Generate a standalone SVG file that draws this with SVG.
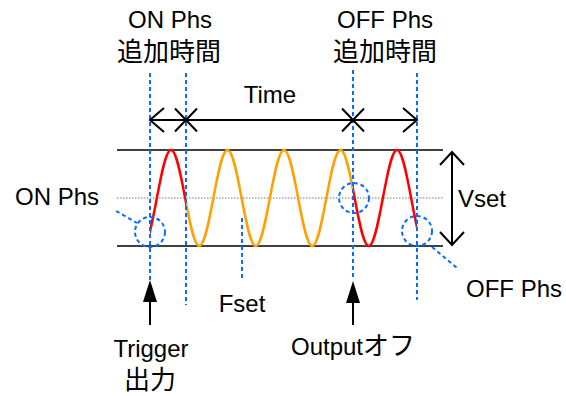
<svg xmlns="http://www.w3.org/2000/svg" width="566" height="396" viewBox="0 0 566 396">
<defs>
<style>
text{font-family:"Liberation Sans","Noto Sans CJK JP",sans-serif;font-size:24px;fill:#000}
.cjk{font-size:26px}
.mid{text-anchor:middle}
.blue{stroke:#0A6CFF;stroke-width:2;stroke-dasharray:4 3;fill:none}
.blk{stroke:#000;stroke-width:2;fill:none}
.hl{stroke:#000;stroke-width:1.3}
.wave{fill:none;stroke-width:2.5}
</style>
<clipPath id="cr"><rect x="150" y="140" width="36" height="120"/><rect x="353" y="140" width="64" height="120"/></clipPath>
<clipPath id="co"><rect x="186" y="140" width="167" height="120"/></clipPath>
<path id="wv" d="M142.75,246 C153.03,246 160.72,150 171,150 S188.97,246 199.25,246 S217.22,150 227.5,150 S245.47,246 255.75,246 S273.72,150 284,150 S301.97,246 312.25,246 S330.22,150 340.5,150 S358.47,246 368.75,246 S386.72,150 397,150 S414.97,246 425.25,246"/>
</defs>
<g id="axes">
<line class="hl" x1="117" y1="150" x2="443" y2="150"/>
<line class="hl" x1="117" y1="246" x2="443" y2="246"/>
<line x1="117" y1="198" x2="443" y2="198" stroke="#777" stroke-width="1" stroke-dasharray="1.5 1.5"/>
</g>
<g id="wave">
<use href="#wv" class="wave" stroke="#FF0000" clip-path="url(#cr)"/>
<use href="#wv" class="wave" stroke="#FFA000" clip-path="url(#co)"/>
</g>
<g id="connectors">
<line class="blue" x1="150" y1="73" x2="150" y2="280"/>
<line class="blue" x1="186" y1="73" x2="186" y2="305"/>
<line class="blue" x1="353" y1="70" x2="353" y2="280"/>
<line class="blue" x1="417" y1="73" x2="417" y2="300"/>
<line class="blue" x1="242" y1="218" x2="242" y2="280"/>
<line class="blue" x1="116" y1="211" x2="137" y2="223"/>
<line class="blue" x1="432" y1="247" x2="457" y2="268"/>
<circle class="blue" cx="150" cy="232" r="15"/>
<circle class="blue" cx="354" cy="198" r="15"/>
<circle class="blue" cx="417" cy="231" r="15"/>
<line class="blk" x1="150" y1="120" x2="417" y2="120"/>
<polyline class="blk" points="164,108 150,120 164,132"/>
<polyline class="blk" points="403,108 417,120 403,132"/>
<path class="blk" d="M175,108.5 L197,131.5 M175,131.5 L197,108.5"/>
<path class="blk" d="M342,108.5 L364,131.5 M342,131.5 L364,108.5"/>
<line class="blk" x1="452" y1="152" x2="452" y2="245"/>
<polyline class="blk" points="440,165 452,152 464,165"/>
<polyline class="blk" points="440,232 452,245 464,232"/>
<line class="blk" x1="150" y1="298" x2="150" y2="325"/>
<polygon points="150,280 143,302 157,302" fill="#000"/>
<line class="blk" x1="353" y1="298" x2="353" y2="325"/>
<polygon points="353,281 346,303 360,303" fill="#000"/>
</g>
<g id="label-on-add"><text class="mid" x="170" y="28">ON Phs</text><text class="mid cjk" x="169" y="61">追加時間</text></g>
<g id="label-off-add"><text class="mid" x="385" y="28">OFF Phs</text><text class="mid cjk" x="385" y="61">追加時間</text></g>
<g id="label-time"><text class="mid" x="270" y="103">Time</text></g>
<g id="label-on"><text class="mid" x="57" y="205">ON Phs</text></g>
<g id="label-vset"><text x="458" y="207">Vset</text></g>
<g id="label-fset"><text class="mid" x="242" y="312">Fset</text></g>
<g id="label-off"><text x="466" y="297">OFF Phs</text></g>
<g id="label-trigger"><text class="mid" x="151" y="357">Trigger</text><text class="mid cjk" x="150" y="389">出力</text></g>
<g id="label-output"><text class="mid" x="353" y="355">Output<tspan class="cjk">オフ</tspan></text></g>
</svg>
